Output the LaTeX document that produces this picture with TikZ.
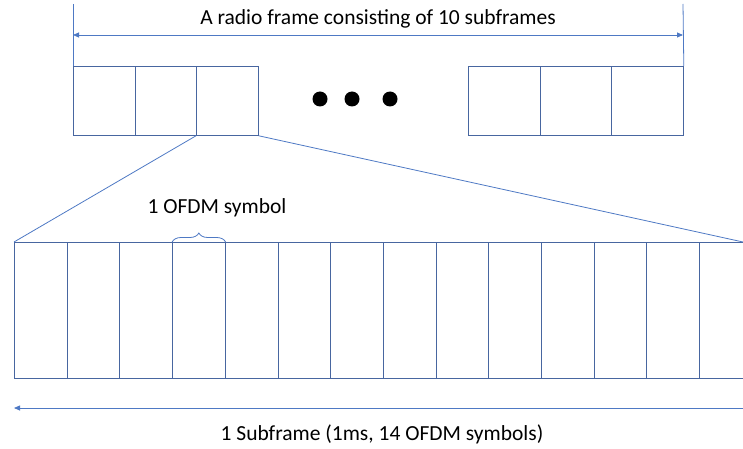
\documentclass[tikz,border=0pt]{standalone}
\usepackage{fontspec}
\setmainfont{Carlito}
\usetikzlibrary{arrows.meta,decorations.pathreplacing}
\definecolor{boxblue}{RGB}{72,102,160}
\definecolor{arrblue}{RGB}{78,121,196}
\begin{document}
\begin{tikzpicture}[x=1pt,y=-1pt,
  sfbox/.style={draw=boxblue,line width=0.8pt,minimum width=#1,minimum height=69pt,inner sep=0pt,anchor=north west},
  symbox/.style={draw=boxblue,line width=0.8pt,minimum width=52.7pt,minimum height=136pt,inner sep=0pt,anchor=north west},
  guide/.style={draw=arrblue,line width=0.8pt},
  dimarrow/.style={draw=arrblue,line width=0.8pt,-{Triangle[length=6pt,width=5pt]}},
  lbl/.style={font=\fontsize{21.5}{25}\selectfont,inner sep=0pt,text=black},
  dotc/.style={circle,fill=black,minimum size=15pt,inner sep=0pt}]
\useasboundingbox (0,0) rectangle (743,449);
% top subframes
\node[sfbox=62pt] (a1) at (73,66) {};
\node[sfbox=61pt] (a2) at (135,66) {};
\node[sfbox=62pt] (a3) at (196,66) {};
\node[sfbox=72pt] (b1) at (468,66) {};
\node[sfbox=71pt] (b2) at (540,66) {};
\node[sfbox=72pt] (b3) at (611,66) {};
% dots
\node[dotc] (d1) at (320,99) {};
\node[dotc] (d2) at (352,99) {};
\node[dotc] (d3) at (390,99) {};
% frame dimension
\coordinate (tl) at (73,4);
\coordinate (tr) at (683,4);
\draw[guide] (tl) -- (a1.north west);
\draw[guide] (tr) -- (b3.north east);
\coordinate (al) at (73,35);
\coordinate (ar) at (683,35);
\draw[dimarrow,{Triangle[length=6pt,width=5pt]}-{Triangle[length=6pt,width=5pt]}] (al) -- (ar);
\node[lbl] (frametxt) at (378,19) {A radio frame consisting of 10 subframes};
% symbol row
\begin{scope}
\clip (0,0) rectangle (743,449);
\foreach \i in {0,...,13} {
  \node[symbox] (s\i) at ({14+52.7*\i},242) {};
}
\end{scope}
% zoom lines
\draw[guide] (a3.south west) -- (s0.north west);
\draw[guide] (a3.south east) -- (743,242);
% brace
\draw[draw=arrblue,line width=0.8pt,decorate,decoration={brace,amplitude=9pt}] (s3.north west) -- (s3.north east) coordinate[midway] (bm);
\node[lbl] (symtxt) at (217,208) {1 OFDM symbol};
% subframe dimension
\coordinate (bl) at (14,408);
\coordinate (br) at (743,408);
\draw[dimarrow] (br) -- (bl);
\node[lbl] (subtxt) at (382,434) {1 Subframe (1ms, 14 OFDM symbols)};
\end{tikzpicture}
\end{document}
